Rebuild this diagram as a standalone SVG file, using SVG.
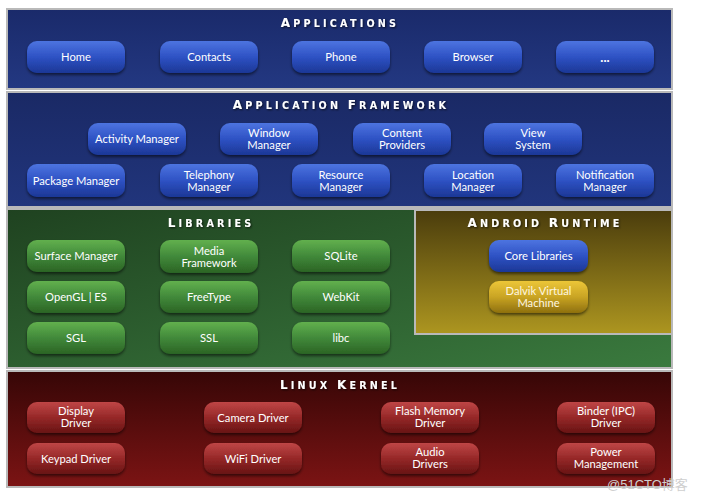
<svg xmlns="http://www.w3.org/2000/svg" width="701" height="500" viewBox="0 0 701 500">
<defs>
<linearGradient id="gApps" x1="0" y1="0" x2="0" y2="1"><stop offset="0" stop-color="#1a2a6a"/><stop offset="1" stop-color="#233882"/></linearGradient>
<linearGradient id="gFw" x1="0" y1="0" x2="0" y2="1"><stop offset="0" stop-color="#1a2965"/><stop offset="1" stop-color="#21357c"/></linearGradient>
<linearGradient id="gLib" x1="0" y1="0" x2="1" y2="1"><stop offset="0" stop-color="#1f4220"/><stop offset="1" stop-color="#3a7a3e"/></linearGradient>
<linearGradient id="gRt" x1="0" y1="0" x2="0" y2="1"><stop offset="0" stop-color="#4a3c0c"/><stop offset="1" stop-color="#ad9620"/></linearGradient>
<linearGradient id="gKer" x1="0" y1="0" x2="0" y2="1"><stop offset="0" stop-color="#360606"/><stop offset="1" stop-color="#7c1414"/></linearGradient>
<linearGradient id="bBlue" x1="0" y1="0" x2="0" y2="1"><stop offset="0" stop-color="#4d74e0"/><stop offset="0.5" stop-color="#2e52c4"/><stop offset="1" stop-color="#1c3796"/></linearGradient>
<linearGradient id="bGreen" x1="0" y1="0" x2="0" y2="1"><stop offset="0" stop-color="#62b04e"/><stop offset="0.5" stop-color="#41893a"/><stop offset="1" stop-color="#2b6424"/></linearGradient>
<linearGradient id="bGold" x1="0" y1="0" x2="0" y2="1"><stop offset="0" stop-color="#ecc638"/><stop offset="0.5" stop-color="#c9a424"/><stop offset="1" stop-color="#8e700e"/></linearGradient>
<linearGradient id="bRed" x1="0" y1="0" x2="0" y2="1"><stop offset="0" stop-color="#bf4646"/><stop offset="0.5" stop-color="#962828"/><stop offset="1" stop-color="#681414"/></linearGradient>
<filter id="sh" x="-10%" y="-20%" width="120%" height="150%"><feDropShadow dx="0" dy="2" stdDeviation="1.5" flood-color="#000" flood-opacity="0.55"/></filter>
<filter id="tsh" x="-5%" y="-30%" width="110%" height="160%"><feDropShadow dx="1" dy="1" stdDeviation="0.8" flood-color="#000" flood-opacity="0.7"/></filter>
</defs>
<style>
.panel{stroke:#b9b9b9;stroke-width:2}
.btn rect{filter:url(#sh)}
.blue rect{fill:url(#bBlue)}
.green rect{fill:url(#bGreen)}
.gold rect{fill:url(#bGold)}
.red rect{fill:url(#bRed)}
.btn text{font-family:Lato,"Open Sans","Liberation Sans",sans-serif;font-size:11.2px;fill:#ffffff;text-anchor:middle}
.gold text{fill:#fff7e0}
.title{font-family:"DejaVu Sans","Liberation Sans",sans-serif;font-weight:bold;font-size:9.6px;letter-spacing:3.2px;fill:#ffffff;text-anchor:middle;filter:url(#tsh)}
.title .c{font-size:12px}
.wm{font-family:"Liberation Sans","Noto Sans CJK SC",sans-serif;font-size:13px;fill:#cfcfcf}
</style>
<rect width="701" height="500" fill="#ffffff"/>

<g id="applications">
<rect class="panel" x="7" y="9" width="665" height="80" fill="url(#gApps)"/>
<text class="title" x="340" y="27"><tspan class="c">A</tspan>PPLICATIONS</text>
</g>
<g id="application-framework">
<rect class="panel" x="7" y="92" width="665" height="115" fill="url(#gFw)"/>
<text class="title" x="341" y="109"><tspan class="c">A</tspan>PPLICATION <tspan class="c">F</tspan>RAMEWORK</text>
</g>
<g id="libraries">
<rect class="panel" x="7" y="209" width="665" height="159" fill="url(#gLib)"/>
<text class="title" x="211" y="227"><tspan class="c">L</tspan>IBRARIES</text>
</g>
<g id="android-runtime">
<rect class="panel" x="415" y="210" width="257" height="124" fill="url(#gRt)"/>
<text class="title" x="545" y="227"><tspan class="c">A</tspan>NDROID <tspan class="c">R</tspan>UNTIME</text>
</g>
<g id="linux-kernel">
<rect class="panel" x="7" y="371" width="665" height="116" fill="url(#gKer)"/>
<text class="title" x="340" y="389"><tspan class="c">L</tspan>INUX <tspan class="c">K</tspan>ERNEL</text>
</g>

<g id="home" class="btn blue"><rect x="27" y="41" width="98" height="32" rx="10"/><text x="76" y="61">Home</text></g>
<g id="contacts" class="btn blue"><rect x="160" y="41" width="98" height="32" rx="10"/><text x="209" y="61">Contacts</text></g>
<g id="phone" class="btn blue"><rect x="292" y="41" width="98" height="32" rx="10"/><text x="341" y="61">Phone</text></g>
<g id="browser" class="btn blue"><rect x="424" y="41" width="98" height="32" rx="10"/><text x="473" y="61">Browser</text></g>
<g id="more" class="btn blue"><rect x="556" y="41" width="98" height="32" rx="10"/><text x="605" y="62" style="font-weight:bold;font-size:13px">...</text></g>

<g id="activity-manager" class="btn blue"><rect x="88" y="123" width="98" height="32" rx="10"/><text x="137" y="143">Activity Manager</text></g>
<g id="window-manager" class="btn blue"><rect x="220" y="123" width="98" height="32" rx="10"/><text x="269" y="137">Window</text><text x="269" y="149">Manager</text></g>
<g id="content-providers" class="btn blue"><rect x="353" y="123" width="98" height="32" rx="10"/><text x="402" y="137">Content</text><text x="402" y="149">Providers</text></g>
<g id="view-system" class="btn blue"><rect x="484" y="123" width="98" height="32" rx="10"/><text x="533" y="137">View</text><text x="533" y="149">System</text></g>
<g id="package-manager" class="btn blue"><rect x="27" y="164" width="98" height="33" rx="10"/><text x="76" y="185">Package Manager</text></g>
<g id="telephony-manager" class="btn blue"><rect x="160" y="164" width="98" height="33" rx="10"/><text x="209" y="179">Telephony</text><text x="209" y="191">Manager</text></g>
<g id="resource-manager" class="btn blue"><rect x="292" y="164" width="98" height="33" rx="10"/><text x="341" y="179">Resource</text><text x="341" y="191">Manager</text></g>
<g id="location-manager" class="btn blue"><rect x="424" y="164" width="98" height="33" rx="10"/><text x="473" y="179">Location</text><text x="473" y="191">Manager</text></g>
<g id="notification-manager" class="btn blue"><rect x="556" y="164" width="98" height="33" rx="10"/><text x="605" y="179">Notification</text><text x="605" y="191">Manager</text></g>

<g id="surface-manager" class="btn green"><rect x="27" y="240" width="98" height="32" rx="10"/><text x="76" y="260">Surface Manager</text></g>
<g id="media-framework" class="btn green"><rect x="160" y="240" width="98" height="33" rx="10"/><text x="209" y="255">Media</text><text x="209" y="267">Framework</text></g>
<g id="sqlite" class="btn green"><rect x="292" y="240" width="98" height="32" rx="10"/><text x="341" y="260">SQLite</text></g>
<g id="opengl-es" class="btn green"><rect x="27" y="281" width="98" height="32" rx="10"/><text x="76" y="301">OpenGL | ES</text></g>
<g id="freetype" class="btn green"><rect x="160" y="281" width="98" height="32" rx="10"/><text x="209" y="301">FreeType</text></g>
<g id="webkit" class="btn green"><rect x="292" y="281" width="98" height="32" rx="10"/><text x="341" y="301">WebKit</text></g>
<g id="sgl" class="btn green"><rect x="27" y="322" width="98" height="32" rx="10"/><text x="76" y="342">SGL</text></g>
<g id="ssl" class="btn green"><rect x="160" y="322" width="98" height="32" rx="10"/><text x="209" y="342">SSL</text></g>
<g id="libc" class="btn green"><rect x="292" y="322" width="98" height="32" rx="10"/><text x="341" y="342">libc</text></g>

<g id="core-libraries" class="btn blue"><rect x="489" y="240" width="99" height="32" rx="10"/><text x="538.5" y="260">Core Libraries</text></g>
<g id="dalvik-vm" class="btn gold"><rect x="489" y="281" width="99" height="32" rx="10"/><text x="538.5" y="295">Dalvik Virtual</text><text x="538.5" y="307">Machine</text></g>

<g id="display-driver" class="btn red"><rect x="27" y="402" width="98" height="31" rx="10"/><text x="76" y="415">Display</text><text x="76" y="427">Driver</text></g>
<g id="camera-driver" class="btn red"><rect x="204" y="402" width="98" height="31" rx="10"/><text x="253" y="422">Camera Driver</text></g>
<g id="flash-memory-driver" class="btn red"><rect x="381" y="402" width="98" height="31" rx="10"/><text x="430" y="415">Flash Memory</text><text x="430" y="427">Driver</text></g>
<g id="binder-driver" class="btn red"><rect x="557" y="402" width="98" height="31" rx="10"/><text x="606" y="415">Binder (IPC)</text><text x="606" y="427">Driver</text></g>
<g id="keypad-driver" class="btn red"><rect x="27" y="443" width="98" height="31" rx="10"/><text x="76" y="463">Keypad Driver</text></g>
<g id="wifi-driver" class="btn red"><rect x="204" y="443" width="98" height="31" rx="10"/><text x="253" y="463">WiFi Driver</text></g>
<g id="audio-drivers" class="btn red"><rect x="381" y="443" width="98" height="31" rx="10"/><text x="430" y="456">Audio</text><text x="430" y="468">Drivers</text></g>
<g id="power-management" class="btn red"><rect x="557" y="443" width="98" height="31" rx="10"/><text x="606" y="456">Power</text><text x="606" y="468">Management</text></g>

<g id="connectors"></g>
<text class="wm" x="607" y="489">@51CTO博客</text>
</svg>
